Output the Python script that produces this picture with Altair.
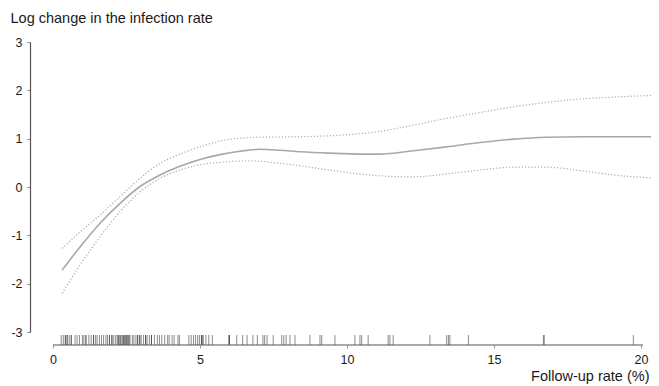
import altair as alt
import pandas as pd

# Fitted curve (log change in infection rate vs follow-up rate)
fit_x = [0.31, 0.92, 1.6, 2.28, 2.96, 3.64, 4.32, 5.0, 5.68, 6.36, 7.04, 7.72, 8.4,
         9.42, 10.55, 11.12, 12.26, 13.39, 14.52, 15.66, 16.79, 17.93, 19.05, 20.6]
fit_y = [-1.72, -1.24, -0.75, -0.34, 0.01, 0.25, 0.43, 0.57, 0.67, 0.74, 0.78, 0.76, 0.73,
         0.70, 0.68, 0.68, 0.75, 0.83, 0.92, 0.99, 1.03, 1.04, 1.04, 1.04]

# Upper confidence band
upper_x = [0.31, 0.92, 1.6, 2.28, 2.96, 3.64, 4.32, 5.0, 5.68, 6.36, 7.04, 8.4, 9.42,
           11.12, 12.26, 13.39, 14.52, 15.66, 16.79, 17.93, 19.05, 20.6]
upper_y = [-1.27, -0.93, -0.58, -0.2, 0.18, 0.49, 0.68, 0.83, 0.95, 1.01, 1.03, 1.04, 1.06,
           1.15, 1.28, 1.42, 1.54, 1.66, 1.75, 1.82, 1.86, 1.90]

# Lower confidence band
lower_x = [0.31, 0.92, 1.6, 2.28, 2.96, 3.64, 4.32, 5.0, 5.68, 6.7, 7.72, 9.42, 10.55,
           12.26, 13.39, 14.52, 15.66, 16.79, 17.93, 19.05, 20.6]
lower_y = [-2.20, -1.61, -1.03, -0.51, -0.1, 0.18, 0.35, 0.46, 0.51, 0.54, 0.49, 0.35, 0.26,
           0.21, 0.27, 0.35, 0.41, 0.41, 0.34, 0.25, 0.18]

# Observed follow-up rates (rug); repeated values give the darker ticks
rug_x = [0.28, 0.35, 0.42, 0.42, 0.48, 0.48, 0.55, 0.62, 0.62, 0.75, 0.82, 0.9, 1.0, 1.05,
         1.12, 1.12, 1.22, 1.3, 1.38, 1.38, 1.45, 1.5, 1.58, 1.65, 1.72, 1.8, 1.85, 1.92,
         1.92, 2.0, 2.0, 2.05, 2.12, 2.18, 2.22, 2.22, 2.28, 2.28, 2.32, 2.38, 2.38, 2.42,
         2.42, 2.48, 2.48, 2.52, 2.52, 2.58, 2.58, 2.62, 2.7, 2.75, 2.82, 2.88, 2.88, 2.95,
         2.95, 3.0, 3.08, 3.15, 3.15, 3.2, 3.28, 3.35, 3.35, 3.45, 3.55, 3.62, 3.7, 3.8,
         3.9, 3.95, 4.05, 4.12, 4.25, 4.3, 4.62, 4.7, 4.78, 4.85, 4.92, 4.98, 5.05, 5.05,
         5.1, 5.1, 5.2, 5.3, 5.42, 5.99, 5.99, 6.0, 6.25, 6.45, 6.6, 6.8, 6.95, 7.14, 7.2,
         7.28, 7.49, 7.78, 7.85, 7.93, 8.06, 8.23, 8.74, 9.08, 9.14, 9.59, 10.27, 10.44,
         10.5, 10.72, 11.4, 11.46, 11.57, 12.82, 13.39, 13.45, 13.5, 14.13, 16.68, 16.71,
         19.74]

x_ticks = [0, 5, 10, 15, 20]
y_ticks = [-3, -2, -1, 0, 1, 2, 3]
x_axis_end = 20.07

fit_df = pd.DataFrame({"x": fit_x, "y": fit_y})
up_df = pd.DataFrame({"x": upper_x, "y": upper_y})
lo_df = pd.DataFrame({"x": lower_x, "y": lower_y})
rug_df = pd.DataFrame({"x": rug_x})

FONT = "Liberation Sans"
TXT = "#1a1a1a"

xscale = alt.Scale(domain=[0, 20.34], nice=False)
yscale = alt.Scale(domain=[-3, 3], nice=False)

xaxis = alt.Axis(values=x_ticks, offset=13, domain=False, ticks=True, tickSize=3,
                 tickColor="#999999", labelPadding=5, labelFontSize=12.5, labelColor=TXT,
                 labelFont=FONT, labelFlush=False, grid=False, title="Follow-up rate (%)",
                 titleFont=FONT, titleFontSize=14.5, titleFontWeight="normal",
                 titleColor=TXT, titleAlign="right", titleX=596, titleY=35,
                 titleBaseline="alphabetic")
yaxis = alt.Axis(values=y_ticks, offset=23, domainColor="#555555", domainWidth=1.2,
                 tickSize=3, tickColor="#888888", labelPadding=5, labelFontSize=12.5,
                 labelColor=TXT, labelFont=FONT, labelFlush=False,
                 labelExpr="'' + datum.value", grid=False,
                 title="Log change in the infection rate", titleFont=FONT, titleFontSize=14.5,
                 titleFontWeight="normal", titleColor=TXT, titleAngle=0,
                 titleAlign="left", titleX=-20, titleY=-20, titleBaseline="alphabetic")

X = alt.X("x:Q", scale=xscale, axis=xaxis)
Y = alt.Y("y:Q", scale=yscale, axis=yaxis)

fit = alt.Chart(fit_df).mark_line(color="#a8a8a8", strokeWidth=1.6, interpolate="monotone",
                                  clip=True).encode(x=X, y=Y)
up = alt.Chart(up_df).mark_line(color="#aaaaaa", strokeWidth=1.2, strokeDash=[1.2, 2],
                                interpolate="monotone", clip=True).encode(x=X, y=Y)
lo = alt.Chart(lo_df).mark_line(color="#aaaaaa", strokeWidth=1.2, strokeDash=[1.2, 2],
                                interpolate="monotone", clip=True).encode(x=X, y=Y)
rug = alt.Chart(rug_df).mark_rule(color="#1a1a1a", strokeWidth=1, opacity=0.5).encode(
    x=X, y=alt.value(293), y2=alt.value(303))
axis_line = alt.Chart(pd.DataFrame({"a": [0]})).mark_rule(color="#555555", strokeWidth=1.2).encode(
    x=alt.X(datum=0, scale=xscale, axis=xaxis), x2=alt.datum(x_axis_end), y=alt.value(303))

chart = alt.layer(fit, up, lo, rug, axis_line).properties(
    width=598, height=290,
    autosize=alt.AutoSizeParams(type="none"),
    padding={"left": 45, "top": 34, "right": 0, "bottom": 52},
    background="white",
).configure_view(stroke=None)

chart.save("out.html", embed_options={"renderer": "svg", "actions": False})
